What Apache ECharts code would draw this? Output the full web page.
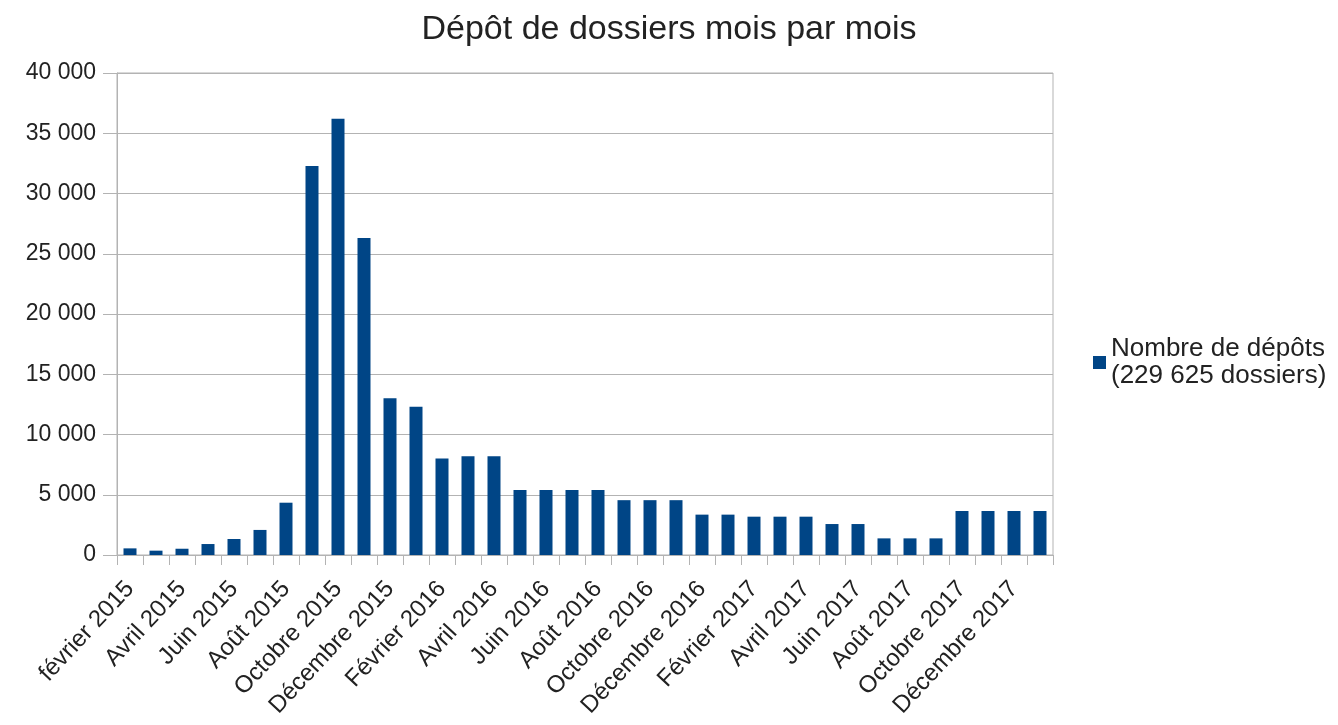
<!DOCTYPE html>
<html>
<head>
<meta charset="utf-8">
<script src="https://cdn.jsdelivr.net/npm/echarts@6/dist/echarts.min.js"></script>
<style>
  html, body { margin: 0; padding: 0; background: #fff; }
  #chart { width: 1338px; height: 725px; }
</style>
</head>
<body>
<div id="chart"></div>
<script>
// mois de février 2015 à janvier 2018
const months = [
  'février 2015', 'Mars 2015', 'Avril 2015', 'Mai 2015', 'Juin 2015', 'Juillet 2015',
  'Août 2015', 'Septembre 2015', 'Octobre 2015', 'Novembre 2015', 'Décembre 2015', 'Janvier 2016',
  'Février 2016', 'Mars 2016', 'Avril 2016', 'Mai 2016', 'Juin 2016', 'Juillet 2016',
  'Août 2016', 'Septembre 2016', 'Octobre 2016', 'Novembre 2016', 'Décembre 2016', 'Janvier 2017',
  'Février 2017', 'Mars 2017', 'Avril 2017', 'Mai 2017', 'Juin 2017', 'Juillet 2017',
  'Août 2017', 'Septembre 2017', 'Octobre 2017', 'Novembre 2017', 'Décembre 2017', 'Janvier 2018'
];
// nombre de dépôts
const depots = [
  550, 360, 520, 910, 1330, 2080,
  4340, 32280, 36210, 26310, 13000, 12310,
  8000, 8190, 8190, 5400, 5400, 5400,
  5400, 4550, 4550, 4550, 3350, 3350,
  3180, 3180, 3180, 2570, 2570, 1380,
  1380, 1380, 3650, 3650, 3650, 3650
];
const seriesName = 'Nombre de dépôts\n(229 625 dossiers)';
const titleText = 'Dépôt de dossiers mois par mois';

const font = 'Liberation Sans, Arial, sans-serif';
const textColor = '#222';

const myChart = echarts.init(document.getElementById('chart'));

function spaceNum(v) {
  return String(v).replace(/\B(?=(\d{3})+(?!\d))/g, ' ');
}

const option = {
  backgroundColor: '#fff',
  animation: false,
  textStyle: { fontFamily: font },
  title: {
    text: titleText,
    left: 'center',
    top: 8,
    textStyle: {
      fontFamily: font,
      fontSize: 34,
      fontWeight: 'normal',
      color: textColor
    }
  },
  legend: {
    data: [seriesName],
    orient: 'vertical',
    left: 1088,
    top: 317,
    icon: 'rect',
    itemWidth: 13,
    itemHeight: 13,
    itemGap: 5,
    textStyle: {
      fontFamily: font,
      fontSize: 26,
      color: textColor,
      lineHeight: 27,
      padding: [27, 0, 0, 0]
    }
  },
  grid: {
    left: 117,
    right: 285,
    top: 73,
    bottom: 170,
    outerBoundsMode: 'none',
    show: true,
    borderColor: '#b3b3b3',
    borderWidth: 1
  },
  xAxis: {
    type: 'category',
    data: months,
    boundaryGap: true,
    axisLine: { show: true, lineStyle: { color: '#b3b3b3', width: 1 } },
    axisTick: { show: true, length: 10, interval: 0, lineStyle: { color: '#b3b3b3' } },
    splitLine: { show: false },
    axisLabel: {
      interval: 1,
      rotate: 47,
      margin: 30,
      fontFamily: font,
      fontSize: 24,
      color: textColor
    }
  },
  yAxis: {
    type: 'value',
    min: 0,
    max: 40000,
    interval: 5000,
    axisLine: { show: true, lineStyle: { color: '#b3b3b3', width: 1 } },
    axisTick: { show: true, length: 14, lineStyle: { color: '#b3b3b3' } },
    splitLine: { show: true, lineStyle: { color: '#b3b3b3', width: 1 } },
    axisLabel: {
      margin: 21,
      fontFamily: font,
      fontSize: 23,
      color: textColor,
      formatter: function(v) {
        return spaceNum(v);
      }
    }
  },
  series: [
    {
      name: seriesName,
      type: 'bar',
      data: depots,
      barCategoryGap: '50%',
      itemStyle: { color: '#004586' }
    }
  ]
};
myChart.setOption(option);
</script>
</body>
</html>
